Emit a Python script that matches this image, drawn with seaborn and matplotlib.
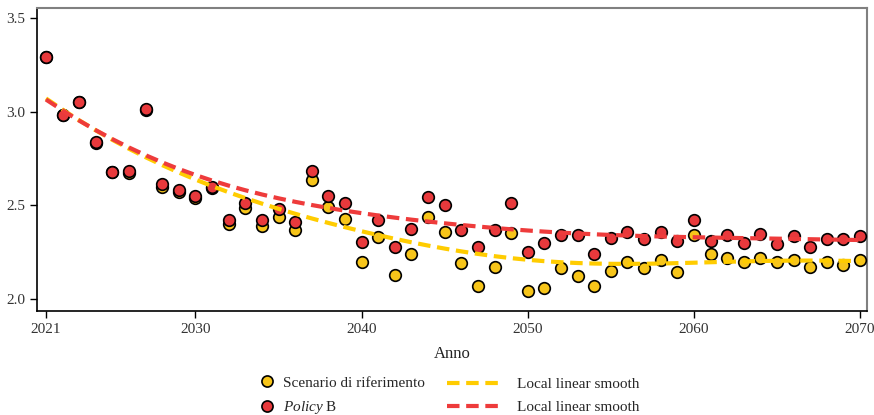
import numpy as np
import pandas as pd
import matplotlib
matplotlib.use("Agg")
import matplotlib.pyplot as plt
import seaborn as sns
from matplotlib.lines import Line2D

years = list(range(2021, 2071))
scenario = [3.29, 2.98, 3.05, 2.83, 2.68, 2.67, 3.01, 2.60, 2.57, 2.54,
            2.59, 2.40, 2.485, 2.39, 2.44, 2.37, 2.635, 2.49, 2.425, 2.20,
            2.33, 2.13, 2.24, 2.44, 2.36, 2.19, 2.07, 2.17, 2.35, 2.045,
            2.06, 2.165, 2.125, 2.068, 2.15, 2.195, 2.165, 2.21, 2.145, 2.34,
            2.24, 2.22, 2.195, 2.22, 2.20, 2.21, 2.17, 2.20, 2.18, 2.21]
policy_b = [3.29, 2.98, 3.05, 2.84, 2.68, 2.685, 3.015, 2.615, 2.58, 2.55,
            2.60, 2.42, 2.51, 2.42, 2.48, 2.41, 2.685, 2.55, 2.515, 2.305,
            2.42, 2.28, 2.375, 2.545, 2.50, 2.37, 2.275, 2.37, 2.51, 2.25,
            2.30, 2.34, 2.34, 2.24, 2.325, 2.355, 2.32, 2.36, 2.31, 2.42,
            2.31, 2.34, 2.30, 2.345, 2.295, 2.335, 2.275, 2.32, 2.32, 2.335]
series_labels = ["Scenario di riferimento", "$\\it{Policy}$ B"]
smooth_label = "Local linear smooth"
x_ticks = [2021, 2030, 2040, 2050, 2060, 2070]
y_ticks = [2.0, 2.5, 3.0, 3.5]

YELLOW = "#F7C51A"
RED = "#E8393C"
LINE_Y = "#FFCC00"
LINE_R = "#EE3B3B"
DASH = (0, (3, 1.6))


def local_linear(x, y, h=7.2):
    x = np.asarray(x, float)
    y = np.asarray(y, float)
    out = []
    for x0 in x:
        w = np.exp(-0.5 * ((x - x0) / h) ** 2)
        X = np.column_stack([np.ones_like(x), x - x0])
        W = np.diag(w)
        beta = np.linalg.solve(X.T @ W @ X, X.T @ W @ y)
        out.append(beta[0])
    return np.array(out)


df = pd.DataFrame({"anno": years, "scen": scenario, "pol": policy_b})
df["scen_s"] = local_linear(years, scenario)
df["pol_s"] = local_linear(years, policy_b)

sns.set_theme(style="white")
plt.rcParams["font.family"] = ["Liberation Serif", "DejaVu Serif"]
plt.rcParams["mathtext.fontset"] = "custom"
plt.rcParams["mathtext.it"] = "Liberation Serif:italic"
plt.rcParams["mathtext.rm"] = "Liberation Serif"

fig = plt.figure(figsize=(8.74, 4.15), dpi=100)
ax = fig.add_axes([37 / 874, 1 - 311 / 415, 830 / 874, 303 / 415])

sns.scatterplot(data=df, x="anno", y="scen", ax=ax, color=YELLOW, s=70,
                edgecolor="black", linewidth=1.2, zorder=3, legend=False)
sns.scatterplot(data=df, x="anno", y="pol", ax=ax, color=RED, s=70,
                edgecolor="black", linewidth=1.2, zorder=4, legend=False)
sns.lineplot(data=df, x="anno", y="scen_s", ax=ax, color=LINE_Y, lw=3,
             linestyle=DASH, zorder=5)
sns.lineplot(data=df, x="anno", y="pol_s", ax=ax, color=LINE_R, lw=3,
             linestyle=DASH, zorder=6)

ax.set_xlim(2020.46, 2070.42)
ax.set_ylim(1.936, 3.553)
ax.set_xticks(x_ticks)
ax.set_yticks(y_ticks)
ax.set_yticklabels([f"{v:.1f}" for v in y_ticks])
ax.set_xlabel("Anno", fontsize=12, color="#222222", labelpad=7)
ax.set_ylabel("")
ax.tick_params(axis="both", which="both", direction="out", length=5, width=1,
               color="black", labelsize=11, labelcolor="#333333", bottom=True, left=True)
for side in ["left", "bottom"]:
    ax.spines[side].set_color("black")
    ax.spines[side].set_linewidth(1.2)
for side in ["top", "right"]:
    ax.spines[side].set_color("#808080")
    ax.spines[side].set_linewidth(1.5)

mk_handles = [
    Line2D([], [], marker="o", linestyle="none", markerfacecolor=YELLOW,
           markeredgecolor="black", markersize=8, markeredgewidth=1.2),
    Line2D([], [], marker="o", linestyle="none", markerfacecolor=RED,
           markeredgecolor="black", markersize=8, markeredgewidth=1.2),
]
ln_handles = [
    Line2D([], [], color=LINE_Y, lw=3, linestyle=DASH),
    Line2D([], [], color=LINE_R, lw=3, linestyle=DASH),
]
leg1 = fig.legend(mk_handles, series_labels, loc="center left",
                  bbox_to_anchor=(259 / 874, 1 - 396 / 415), frameon=False,
                  fontsize=11, handlelength=1.0, labelspacing=0.6,
                  handletextpad=0.6, borderaxespad=0, borderpad=0)
leg2 = fig.legend(ln_handles, [smooth_label, smooth_label], loc="center left",
                  bbox_to_anchor=(447 / 874, 1 - 396 / 415), frameon=False,
                  fontsize=11, handlelength=3.5, labelspacing=0.6,
                  handletextpad=1.1, borderaxespad=0, borderpad=0)

fig.savefig("out.png", dpi=100)
